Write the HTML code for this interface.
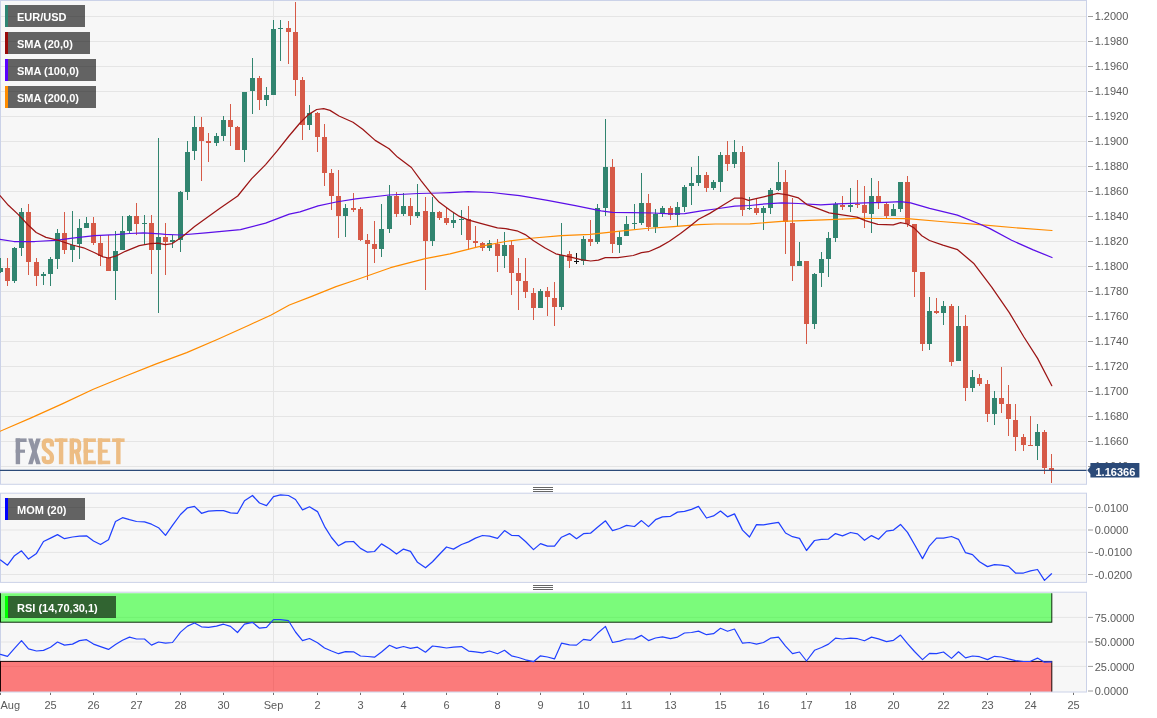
<!DOCTYPE html><html><head><meta charset="utf-8"><title>EUR/USD</title>
<style>html,body{margin:0;padding:0;background:#fff;}body{width:1157px;height:718px;overflow:hidden;font-family:"Liberation Sans",sans-serif;}svg{display:block;position:absolute;left:0;top:0;will-change:transform;}text{font-family:"Liberation Sans",sans-serif;}</style></head><body>
<svg width="1157" height="718" viewBox="0 0 1157 718">
<rect width="1157" height="718" fill="#fff"/>
<rect x="0.5" y="0.5" width="1086.0" height="483.8" fill="#f7f7f7" stroke="#cbd2e8" stroke-width="1"/>
<rect x="0.5" y="493.2" width="1086.0" height="89.19999999999999" fill="#f7f7f7" stroke="#cbd2e8" stroke-width="1"/>
<rect x="0.5" y="592.2" width="1086.0" height="99.79999999999995" fill="#f7f7f7" stroke="#cbd2e8" stroke-width="1"/>
<defs>
<clipPath id="cp0"><rect x="0" y="0.5" width="1086.5" height="483.8"/></clipPath>
<clipPath id="cp1"><rect x="0" y="493.2" width="1086.5" height="89.19999999999999"/></clipPath>
<clipPath id="cp2"><rect x="0" y="592.2" width="1086.5" height="99.79999999999995"/></clipPath>
<clipPath id="cp2b"><rect x="0" y="593.3" width="1087" height="98.3"/></clipPath>
</defs>
<line x1="1" x2="1086.0" y1="16.50" y2="16.50" stroke="#e5e5e5" stroke-width="1"/>
<line x1="1" x2="1086.0" y1="41.50" y2="41.50" stroke="#e5e5e5" stroke-width="1"/>
<line x1="1" x2="1086.0" y1="66.50" y2="66.50" stroke="#e5e5e5" stroke-width="1"/>
<line x1="1" x2="1086.0" y1="91.50" y2="91.50" stroke="#e5e5e5" stroke-width="1"/>
<line x1="1" x2="1086.0" y1="116.50" y2="116.50" stroke="#e5e5e5" stroke-width="1"/>
<line x1="1" x2="1086.0" y1="141.50" y2="141.50" stroke="#e5e5e5" stroke-width="1"/>
<line x1="1" x2="1086.0" y1="166.50" y2="166.50" stroke="#e5e5e5" stroke-width="1"/>
<line x1="1" x2="1086.0" y1="191.50" y2="191.50" stroke="#e5e5e5" stroke-width="1"/>
<line x1="1" x2="1086.0" y1="216.50" y2="216.50" stroke="#e5e5e5" stroke-width="1"/>
<line x1="1" x2="1086.0" y1="241.50" y2="241.50" stroke="#e5e5e5" stroke-width="1"/>
<line x1="1" x2="1086.0" y1="266.50" y2="266.50" stroke="#e5e5e5" stroke-width="1"/>
<line x1="1" x2="1086.0" y1="291.50" y2="291.50" stroke="#e5e5e5" stroke-width="1"/>
<line x1="1" x2="1086.0" y1="316.50" y2="316.50" stroke="#e5e5e5" stroke-width="1"/>
<line x1="1" x2="1086.0" y1="341.50" y2="341.50" stroke="#e5e5e5" stroke-width="1"/>
<line x1="1" x2="1086.0" y1="366.50" y2="366.50" stroke="#e5e5e5" stroke-width="1"/>
<line x1="1" x2="1086.0" y1="391.50" y2="391.50" stroke="#e5e5e5" stroke-width="1"/>
<line x1="1" x2="1086.0" y1="416.50" y2="416.50" stroke="#e5e5e5" stroke-width="1"/>
<line x1="1" x2="1086.0" y1="441.50" y2="441.50" stroke="#e5e5e5" stroke-width="1"/>
<line x1="1" x2="1086.0" y1="466.50" y2="466.50" stroke="#e5e5e5" stroke-width="1"/>
<line x1="1" x2="1086.0" y1="507.5" y2="507.5" stroke="#e5e5e5" stroke-width="1"/>
<line x1="1" x2="1086.0" y1="530.0" y2="530.0" stroke="#e5e5e5" stroke-width="1"/>
<line x1="1" x2="1086.0" y1="552.4" y2="552.4" stroke="#e5e5e5" stroke-width="1"/>
<line x1="1" x2="1086.0" y1="574.5" y2="574.5" stroke="#e5e5e5" stroke-width="1"/>
<line x1="1" x2="1086.0" y1="617.4" y2="617.4" stroke="#e5e5e5" stroke-width="1"/>
<line x1="1" x2="1086.0" y1="642.0" y2="642.0" stroke="#e5e5e5" stroke-width="1"/>
<line x1="1" x2="1086.0" y1="666.4" y2="666.4" stroke="#e5e5e5" stroke-width="1"/>
<line x1="273.5" x2="273.5" y1="1.0" y2="483.8" stroke="#e5e5e5" stroke-width="1"/>
<line x1="273.5" x2="273.5" y1="493.7" y2="581.9" stroke="#e5e5e5" stroke-width="1"/>
<line x1="273.5" x2="273.5" y1="592.7" y2="691.5" stroke="#e5e5e5" stroke-width="1"/>
<g opacity="1"><rect x="15.70" y="438.40" width="4.40" height="25.80" fill="#9194a3"/><rect x="15.70" y="438.40" width="10.90" height="3.60" fill="#9194a3"/><rect x="15.70" y="449.60" width="9.30" height="3.20" fill="#9194a3"/><polygon points="28.1,438.4 32.6,438.4 40.7,464.2 36.2,464.2" fill="#9194a3"/><polygon points="36.2,438.4 40.7,438.4 32.6,464.2 28.1,464.2" fill="#9194a3"/><path d="M51.9 446.5 L51.9 443.6 Q51.9 440.5 47.9 440.5 Q43.8 440.5 43.8 443.8 L43.8 445.5 Q43.8 448.6 47.9 451.3 Q51.9 454 51.9 457 L51.9 458.9 Q51.9 462.1 47.9 462.1 Q43.8 462.1 43.8 459 L43.8 456.2" fill="none" stroke="#edbd84" stroke-width="4.3"/><rect x="54.70" y="438.40" width="12.80" height="3.60" fill="#edbd84"/><rect x="58.90" y="438.40" width="4.40" height="25.80" fill="#edbd84"/><rect x="69.60" y="438.40" width="4.40" height="25.80" fill="#edbd84"/><path d="M71.8 440.3 L75.6 440.3 Q79.3 440.3 79.3 444 L79.3 447.8 Q79.3 451.5 75.6 451.5 L71.8 451.5" fill="none" stroke="#edbd84" stroke-width="3.8"/><polygon points="74.6,452 79.0,451 81.8,464.2 77.4,464.2" fill="#edbd84"/><rect x="83.60" y="438.40" width="4.40" height="25.80" fill="#edbd84"/><rect x="83.60" y="438.40" width="12.30" height="3.60" fill="#edbd84"/><rect x="83.60" y="449.60" width="9.80" height="3.20" fill="#edbd84"/><rect x="83.60" y="460.60" width="12.30" height="3.60" fill="#edbd84"/><rect x="97.90" y="438.40" width="4.40" height="25.80" fill="#edbd84"/><rect x="97.90" y="438.40" width="12.30" height="3.60" fill="#edbd84"/><rect x="97.90" y="449.60" width="9.80" height="3.20" fill="#edbd84"/><rect x="97.90" y="460.60" width="12.30" height="3.60" fill="#edbd84"/><rect x="112.10" y="438.40" width="12.50" height="3.60" fill="#edbd84"/><rect x="116.15" y="438.40" width="4.40" height="25.80" fill="#edbd84"/></g>
<g clip-path="url(#cp0)" shape-rendering="crispEdges">
<rect x="0" y="258" width="1" height="15" fill="#31846f"/>
<rect x="-2" y="268" width="5" height="4" fill="#31846f"/>
<rect x="7" y="258" width="1" height="28" fill="#d65a47"/>
<rect x="5" y="268" width="5" height="13" fill="#d65a47"/>
<rect x="14" y="247" width="1" height="36" fill="#31846f"/>
<rect x="12" y="248" width="5" height="33" fill="#31846f"/>
<rect x="21" y="208" width="1" height="48" fill="#31846f"/>
<rect x="19" y="212" width="5" height="36" fill="#31846f"/>
<rect x="28" y="204" width="1" height="71" fill="#d65a47"/>
<rect x="26" y="212" width="5" height="50" fill="#d65a47"/>
<rect x="36" y="258" width="1" height="28" fill="#d65a47"/>
<rect x="34" y="262" width="5" height="14" fill="#d65a47"/>
<rect x="43" y="272" width="1" height="13" fill="#31846f"/>
<rect x="41" y="274" width="5" height="2" fill="#31846f"/>
<rect x="50" y="257" width="1" height="29" fill="#31846f"/>
<rect x="48" y="259" width="5" height="15" fill="#31846f"/>
<rect x="57" y="229" width="1" height="40" fill="#31846f"/>
<rect x="55" y="233" width="5" height="26" fill="#31846f"/>
<rect x="64" y="212" width="1" height="42" fill="#d65a47"/>
<rect x="62" y="233" width="5" height="17" fill="#d65a47"/>
<rect x="72" y="211" width="1" height="51" fill="#31846f"/>
<rect x="70" y="245" width="5" height="5" fill="#31846f"/>
<rect x="79" y="219" width="1" height="40" fill="#31846f"/>
<rect x="77" y="228" width="5" height="16" fill="#31846f"/>
<rect x="86" y="217" width="1" height="11" fill="#31846f"/>
<rect x="84" y="223" width="5" height="5" fill="#31846f"/>
<rect x="93" y="217" width="1" height="28" fill="#d65a47"/>
<rect x="91" y="223" width="5" height="20" fill="#d65a47"/>
<rect x="100" y="235" width="1" height="31" fill="#d65a47"/>
<rect x="98" y="243" width="5" height="13" fill="#d65a47"/>
<rect x="108" y="235" width="1" height="36" fill="#d65a47"/>
<rect x="106" y="258" width="5" height="13" fill="#d65a47"/>
<rect x="115" y="231" width="1" height="69" fill="#31846f"/>
<rect x="113" y="251" width="5" height="20" fill="#31846f"/>
<rect x="122" y="216" width="1" height="34" fill="#31846f"/>
<rect x="120" y="231" width="5" height="19" fill="#31846f"/>
<rect x="129" y="215" width="1" height="19" fill="#31846f"/>
<rect x="127" y="216" width="5" height="15" fill="#31846f"/>
<rect x="136" y="203" width="1" height="32" fill="#d65a47"/>
<rect x="134" y="216" width="5" height="8" fill="#d65a47"/>
<rect x="144" y="215" width="1" height="30" fill="#31846f"/>
<rect x="142" y="223" width="5" height="1" fill="#31846f"/>
<rect x="151" y="215" width="1" height="59" fill="#d65a47"/>
<rect x="149" y="223" width="5" height="27" fill="#d65a47"/>
<rect x="158" y="138" width="1" height="175" fill="#31846f"/>
<rect x="156" y="237" width="5" height="13" fill="#31846f"/>
<rect x="165" y="223" width="1" height="52" fill="#d65a47"/>
<rect x="163" y="237" width="5" height="5" fill="#d65a47"/>
<rect x="172" y="235" width="1" height="13" fill="#31846f"/>
<rect x="170" y="240" width="5" height="2" fill="#31846f"/>
<rect x="180" y="191" width="1" height="61" fill="#31846f"/>
<rect x="178" y="192" width="5" height="48" fill="#31846f"/>
<rect x="187" y="141" width="1" height="59" fill="#31846f"/>
<rect x="185" y="152" width="5" height="40" fill="#31846f"/>
<rect x="194" y="116" width="1" height="44" fill="#31846f"/>
<rect x="192" y="127" width="5" height="24" fill="#31846f"/>
<rect x="201" y="117" width="1" height="64" fill="#d65a47"/>
<rect x="199" y="127" width="5" height="14" fill="#d65a47"/>
<rect x="208" y="133" width="1" height="29" fill="#d65a47"/>
<rect x="206" y="141" width="5" height="2" fill="#d65a47"/>
<rect x="216" y="133" width="1" height="13" fill="#31846f"/>
<rect x="214" y="136" width="5" height="7" fill="#31846f"/>
<rect x="223" y="116" width="1" height="25" fill="#31846f"/>
<rect x="221" y="120" width="5" height="16" fill="#31846f"/>
<rect x="230" y="104" width="1" height="42" fill="#d65a47"/>
<rect x="228" y="120" width="5" height="7" fill="#d65a47"/>
<rect x="237" y="126" width="1" height="24" fill="#d65a47"/>
<rect x="235" y="127" width="5" height="23" fill="#d65a47"/>
<rect x="244" y="92" width="1" height="70" fill="#31846f"/>
<rect x="242" y="92" width="5" height="58" fill="#31846f"/>
<rect x="252" y="58" width="1" height="56" fill="#31846f"/>
<rect x="250" y="78" width="5" height="13" fill="#31846f"/>
<rect x="259" y="76" width="1" height="34" fill="#d65a47"/>
<rect x="257" y="78" width="5" height="22" fill="#d65a47"/>
<rect x="266" y="87" width="1" height="19" fill="#31846f"/>
<rect x="264" y="95" width="5" height="5" fill="#31846f"/>
<rect x="273" y="20" width="1" height="75" fill="#31846f"/>
<rect x="271" y="29" width="5" height="66" fill="#31846f"/>
<rect x="280" y="20" width="1" height="41" fill="#31846f"/>
<rect x="278" y="28" width="5" height="1" fill="#31846f"/>
<rect x="288" y="21" width="1" height="43" fill="#d65a47"/>
<rect x="286" y="28" width="5" height="4" fill="#d65a47"/>
<rect x="295" y="2" width="1" height="94" fill="#d65a47"/>
<rect x="293" y="32" width="5" height="48" fill="#d65a47"/>
<rect x="302" y="77" width="1" height="63" fill="#d65a47"/>
<rect x="300" y="80" width="5" height="45" fill="#d65a47"/>
<rect x="309" y="105" width="1" height="25" fill="#31846f"/>
<rect x="307" y="113" width="5" height="12" fill="#31846f"/>
<rect x="317" y="112" width="1" height="40" fill="#d65a47"/>
<rect x="315" y="113" width="5" height="24" fill="#d65a47"/>
<rect x="324" y="124" width="1" height="62" fill="#d65a47"/>
<rect x="322" y="137" width="5" height="36" fill="#d65a47"/>
<rect x="331" y="169" width="1" height="41" fill="#d65a47"/>
<rect x="329" y="173" width="5" height="23" fill="#d65a47"/>
<rect x="338" y="170" width="1" height="68" fill="#d65a47"/>
<rect x="336" y="196" width="5" height="20" fill="#d65a47"/>
<rect x="345" y="204" width="1" height="33" fill="#31846f"/>
<rect x="343" y="208" width="5" height="8" fill="#31846f"/>
<rect x="353" y="193" width="1" height="19" fill="#d65a47"/>
<rect x="351" y="208" width="5" height="2" fill="#d65a47"/>
<rect x="360" y="207" width="1" height="34" fill="#d65a47"/>
<rect x="358" y="209" width="5" height="31" fill="#d65a47"/>
<rect x="367" y="234" width="1" height="46" fill="#d65a47"/>
<rect x="365" y="240" width="5" height="4" fill="#d65a47"/>
<rect x="374" y="221" width="1" height="42" fill="#d65a47"/>
<rect x="372" y="244" width="5" height="5" fill="#d65a47"/>
<rect x="381" y="204" width="1" height="53" fill="#31846f"/>
<rect x="379" y="229" width="5" height="20" fill="#31846f"/>
<rect x="389" y="185" width="1" height="48" fill="#31846f"/>
<rect x="387" y="196" width="5" height="33" fill="#31846f"/>
<rect x="396" y="192" width="1" height="25" fill="#d65a47"/>
<rect x="394" y="196" width="5" height="18" fill="#d65a47"/>
<rect x="403" y="193" width="1" height="23" fill="#31846f"/>
<rect x="401" y="206" width="5" height="8" fill="#31846f"/>
<rect x="410" y="198" width="1" height="27" fill="#d65a47"/>
<rect x="408" y="206" width="5" height="10" fill="#d65a47"/>
<rect x="417" y="184" width="1" height="34" fill="#31846f"/>
<rect x="415" y="212" width="5" height="4" fill="#31846f"/>
<rect x="425" y="197" width="1" height="93" fill="#d65a47"/>
<rect x="423" y="211" width="5" height="30" fill="#d65a47"/>
<rect x="432" y="197" width="1" height="49" fill="#31846f"/>
<rect x="430" y="212" width="5" height="29" fill="#31846f"/>
<rect x="439" y="211" width="1" height="9" fill="#d65a47"/>
<rect x="437" y="212" width="5" height="6" fill="#d65a47"/>
<rect x="446" y="208" width="1" height="17" fill="#d65a47"/>
<rect x="444" y="218" width="5" height="5" fill="#d65a47"/>
<rect x="453" y="213" width="1" height="15" fill="#31846f"/>
<rect x="451" y="220" width="5" height="3" fill="#31846f"/>
<rect x="461" y="210" width="1" height="25" fill="#31846f"/>
<rect x="459" y="219" width="5" height="1" fill="#31846f"/>
<rect x="468" y="206" width="1" height="44" fill="#d65a47"/>
<rect x="466" y="219" width="5" height="21" fill="#d65a47"/>
<rect x="475" y="226" width="1" height="21" fill="#d65a47"/>
<rect x="473" y="241" width="5" height="2" fill="#d65a47"/>
<rect x="482" y="242" width="1" height="9" fill="#d65a47"/>
<rect x="480" y="243" width="5" height="5" fill="#d65a47"/>
<rect x="489" y="240" width="1" height="11" fill="#31846f"/>
<rect x="487" y="243" width="5" height="5" fill="#31846f"/>
<rect x="497" y="239" width="1" height="33" fill="#d65a47"/>
<rect x="495" y="244" width="5" height="12" fill="#d65a47"/>
<rect x="504" y="232" width="1" height="36" fill="#31846f"/>
<rect x="502" y="245" width="5" height="11" fill="#31846f"/>
<rect x="511" y="241" width="1" height="54" fill="#d65a47"/>
<rect x="509" y="245" width="5" height="28" fill="#d65a47"/>
<rect x="518" y="258" width="1" height="52" fill="#d65a47"/>
<rect x="516" y="273" width="5" height="8" fill="#d65a47"/>
<rect x="525" y="258" width="1" height="40" fill="#d65a47"/>
<rect x="523" y="281" width="5" height="11" fill="#d65a47"/>
<rect x="533" y="288" width="1" height="32" fill="#d65a47"/>
<rect x="531" y="293" width="5" height="15" fill="#d65a47"/>
<rect x="540" y="289" width="1" height="19" fill="#31846f"/>
<rect x="538" y="291" width="5" height="17" fill="#31846f"/>
<rect x="547" y="287" width="1" height="29" fill="#d65a47"/>
<rect x="545" y="291" width="5" height="6" fill="#d65a47"/>
<rect x="554" y="282" width="1" height="44" fill="#d65a47"/>
<rect x="552" y="298" width="5" height="9" fill="#d65a47"/>
<rect x="561" y="223" width="1" height="87" fill="#31846f"/>
<rect x="559" y="255" width="5" height="52" fill="#31846f"/>
<rect x="569" y="251" width="1" height="17" fill="#d65a47"/>
<rect x="567" y="254" width="5" height="7" fill="#d65a47"/>
<rect x="576" y="253" width="1" height="11" fill="#111"/>
<rect x="574" y="261" width="5" height="1" fill="#111"/>
<rect x="583" y="236" width="1" height="29" fill="#31846f"/>
<rect x="581" y="239" width="5" height="22" fill="#31846f"/>
<rect x="590" y="220" width="1" height="26" fill="#d65a47"/>
<rect x="588" y="239" width="5" height="3" fill="#d65a47"/>
<rect x="597" y="204" width="1" height="40" fill="#31846f"/>
<rect x="595" y="208" width="5" height="34" fill="#31846f"/>
<rect x="605" y="119" width="1" height="97" fill="#31846f"/>
<rect x="603" y="167" width="5" height="41" fill="#31846f"/>
<rect x="612" y="159" width="1" height="94" fill="#d65a47"/>
<rect x="610" y="167" width="5" height="77" fill="#d65a47"/>
<rect x="619" y="231" width="1" height="22" fill="#31846f"/>
<rect x="617" y="237" width="5" height="8" fill="#31846f"/>
<rect x="626" y="216" width="1" height="20" fill="#31846f"/>
<rect x="624" y="224" width="5" height="12" fill="#31846f"/>
<rect x="634" y="204" width="1" height="25" fill="#31846f"/>
<rect x="632" y="223" width="5" height="1" fill="#31846f"/>
<rect x="641" y="173" width="1" height="52" fill="#31846f"/>
<rect x="639" y="203" width="5" height="20" fill="#31846f"/>
<rect x="648" y="194" width="1" height="37" fill="#d65a47"/>
<rect x="646" y="203" width="5" height="24" fill="#d65a47"/>
<rect x="655" y="209" width="1" height="24" fill="#31846f"/>
<rect x="653" y="214" width="5" height="13" fill="#31846f"/>
<rect x="662" y="206" width="1" height="11" fill="#31846f"/>
<rect x="660" y="208" width="5" height="5" fill="#31846f"/>
<rect x="670" y="206" width="1" height="14" fill="#d65a47"/>
<rect x="668" y="208" width="5" height="7" fill="#d65a47"/>
<rect x="677" y="202" width="1" height="24" fill="#31846f"/>
<rect x="675" y="207" width="5" height="8" fill="#31846f"/>
<rect x="684" y="185" width="1" height="27" fill="#31846f"/>
<rect x="682" y="187" width="5" height="20" fill="#31846f"/>
<rect x="691" y="167" width="1" height="38" fill="#31846f"/>
<rect x="689" y="183" width="5" height="3" fill="#31846f"/>
<rect x="698" y="156" width="1" height="30" fill="#31846f"/>
<rect x="696" y="175" width="5" height="8" fill="#31846f"/>
<rect x="706" y="172" width="1" height="20" fill="#d65a47"/>
<rect x="704" y="175" width="5" height="13" fill="#d65a47"/>
<rect x="713" y="180" width="1" height="10" fill="#31846f"/>
<rect x="711" y="182" width="5" height="6" fill="#31846f"/>
<rect x="720" y="152" width="1" height="40" fill="#31846f"/>
<rect x="718" y="155" width="5" height="27" fill="#31846f"/>
<rect x="727" y="141" width="1" height="30" fill="#d65a47"/>
<rect x="725" y="155" width="5" height="9" fill="#d65a47"/>
<rect x="734" y="140" width="1" height="28" fill="#31846f"/>
<rect x="732" y="152" width="5" height="12" fill="#31846f"/>
<rect x="742" y="146" width="1" height="70" fill="#d65a47"/>
<rect x="740" y="152" width="5" height="58" fill="#d65a47"/>
<rect x="749" y="197" width="1" height="13" fill="#31846f"/>
<rect x="747" y="208" width="5" height="1" fill="#31846f"/>
<rect x="756" y="199" width="1" height="16" fill="#d65a47"/>
<rect x="754" y="208" width="5" height="5" fill="#d65a47"/>
<rect x="763" y="206" width="1" height="24" fill="#31846f"/>
<rect x="761" y="208" width="5" height="5" fill="#31846f"/>
<rect x="770" y="188" width="1" height="26" fill="#31846f"/>
<rect x="768" y="190" width="5" height="18" fill="#31846f"/>
<rect x="778" y="162" width="1" height="29" fill="#31846f"/>
<rect x="776" y="182" width="5" height="8" fill="#31846f"/>
<rect x="785" y="170" width="1" height="84" fill="#d65a47"/>
<rect x="783" y="182" width="5" height="40" fill="#d65a47"/>
<rect x="792" y="198" width="1" height="83" fill="#d65a47"/>
<rect x="790" y="223" width="5" height="43" fill="#d65a47"/>
<rect x="799" y="242" width="1" height="24" fill="#31846f"/>
<rect x="797" y="261" width="5" height="5" fill="#31846f"/>
<rect x="806" y="261" width="1" height="83" fill="#d65a47"/>
<rect x="804" y="261" width="5" height="63" fill="#d65a47"/>
<rect x="814" y="273" width="1" height="56" fill="#31846f"/>
<rect x="812" y="274" width="5" height="50" fill="#31846f"/>
<rect x="821" y="252" width="1" height="35" fill="#31846f"/>
<rect x="819" y="259" width="5" height="14" fill="#31846f"/>
<rect x="828" y="232" width="1" height="45" fill="#31846f"/>
<rect x="826" y="238" width="5" height="21" fill="#31846f"/>
<rect x="835" y="202" width="1" height="40" fill="#31846f"/>
<rect x="833" y="204" width="5" height="34" fill="#31846f"/>
<rect x="842" y="196" width="1" height="14" fill="#d65a47"/>
<rect x="840" y="205" width="5" height="2" fill="#d65a47"/>
<rect x="850" y="188" width="1" height="24" fill="#31846f"/>
<rect x="848" y="205" width="5" height="2" fill="#31846f"/>
<rect x="857" y="180" width="1" height="28" fill="#d65a47"/>
<rect x="855" y="204" width="5" height="1" fill="#d65a47"/>
<rect x="864" y="186" width="1" height="42" fill="#d65a47"/>
<rect x="862" y="205" width="5" height="8" fill="#d65a47"/>
<rect x="871" y="178" width="1" height="55" fill="#31846f"/>
<rect x="869" y="196" width="5" height="18" fill="#31846f"/>
<rect x="878" y="181" width="1" height="28" fill="#d65a47"/>
<rect x="876" y="196" width="5" height="6" fill="#d65a47"/>
<rect x="886" y="202" width="1" height="16" fill="#d65a47"/>
<rect x="884" y="204" width="5" height="12" fill="#d65a47"/>
<rect x="893" y="204" width="1" height="12" fill="#31846f"/>
<rect x="891" y="209" width="5" height="7" fill="#31846f"/>
<rect x="900" y="182" width="1" height="30" fill="#31846f"/>
<rect x="898" y="182" width="5" height="27" fill="#31846f"/>
<rect x="907" y="176" width="1" height="51" fill="#d65a47"/>
<rect x="905" y="182" width="5" height="42" fill="#d65a47"/>
<rect x="914" y="224" width="1" height="73" fill="#d65a47"/>
<rect x="912" y="224" width="5" height="48" fill="#d65a47"/>
<rect x="922" y="272" width="1" height="79" fill="#d65a47"/>
<rect x="920" y="272" width="5" height="72" fill="#d65a47"/>
<rect x="929" y="297" width="1" height="53" fill="#31846f"/>
<rect x="927" y="311" width="5" height="33" fill="#31846f"/>
<rect x="936" y="298" width="1" height="16" fill="#d65a47"/>
<rect x="934" y="311" width="5" height="2" fill="#d65a47"/>
<rect x="943" y="301" width="1" height="24" fill="#31846f"/>
<rect x="941" y="306" width="5" height="7" fill="#31846f"/>
<rect x="951" y="304" width="1" height="62" fill="#d65a47"/>
<rect x="949" y="306" width="5" height="56" fill="#d65a47"/>
<rect x="958" y="306" width="1" height="55" fill="#31846f"/>
<rect x="956" y="326" width="5" height="35" fill="#31846f"/>
<rect x="965" y="315" width="1" height="86" fill="#d65a47"/>
<rect x="963" y="326" width="5" height="62" fill="#d65a47"/>
<rect x="972" y="370" width="1" height="22" fill="#31846f"/>
<rect x="970" y="377" width="5" height="11" fill="#31846f"/>
<rect x="979" y="374" width="1" height="12" fill="#d65a47"/>
<rect x="977" y="378" width="5" height="6" fill="#d65a47"/>
<rect x="987" y="380" width="1" height="42" fill="#d65a47"/>
<rect x="985" y="384" width="5" height="30" fill="#d65a47"/>
<rect x="994" y="391" width="1" height="34" fill="#31846f"/>
<rect x="992" y="398" width="5" height="16" fill="#31846f"/>
<rect x="1001" y="367" width="1" height="46" fill="#d65a47"/>
<rect x="999" y="398" width="5" height="6" fill="#d65a47"/>
<rect x="1008" y="385" width="1" height="51" fill="#d65a47"/>
<rect x="1006" y="404" width="5" height="15" fill="#d65a47"/>
<rect x="1015" y="404" width="1" height="47" fill="#d65a47"/>
<rect x="1013" y="420" width="5" height="17" fill="#d65a47"/>
<rect x="1023" y="434" width="1" height="17" fill="#d65a47"/>
<rect x="1021" y="437" width="5" height="8" fill="#d65a47"/>
<rect x="1030" y="416" width="1" height="30" fill="#d65a47"/>
<rect x="1028" y="445" width="5" height="1" fill="#d65a47"/>
<rect x="1037" y="424" width="1" height="36" fill="#31846f"/>
<rect x="1035" y="432" width="5" height="14" fill="#31846f"/>
<rect x="1044" y="430" width="1" height="44" fill="#d65a47"/>
<rect x="1042" y="432" width="5" height="36" fill="#d65a47"/>
<rect x="1051" y="454" width="1" height="29" fill="#d65a47"/>
<rect x="1049" y="468" width="5" height="2" fill="#d65a47"/>
</g>
<polyline points="0.0,431.3 31.1,417.9 62.2,403.9 93.3,389.3 124.5,376.5 155.6,364.1 186.7,352.6 217.8,339.2 248.9,325.2 270.7,315.2 289.4,305.0 311.1,296.6 336.0,286.6 355.7,280.0 390.5,267.7 425.3,258.7 450.0,253.8 477.9,246.8 505.7,241.5 533.6,238.0 561.4,235.7 590.0,234.3 617.9,231.3 645.7,228.5 673.6,226.7 698.6,224.6 715.3,224.0 750.0,223.9 781.8,221.3 823.6,219.9 858.4,218.3 885.0,218.5 907.3,218.7 940.7,221.5 979.7,224.6 1020.3,228.2 1052.0,230.5" fill="none" stroke="#ff8c00" stroke-width="1.2" stroke-linejoin="round" stroke-linecap="round" clip-path="url(#cp0)"/>
<polyline points="0.0,239.4 13.9,241.5 34.8,241.5 55.7,240.4 72.4,238.1 94.7,235.7 115.6,234.6 129.5,233.5 143.5,232.9 160.0,233.8 165.3,234.3 180.6,235.0 205.7,232.9 240.5,229.7 265.6,223.1 289.3,214.1 300.0,211.8 318.1,205.8 336.2,202.0 355.7,198.8 389.1,195.0 418.4,193.5 439.3,193.0 450.0,192.6 468.1,191.7 491.8,192.5 519.6,195.6 547.5,200.4 575.3,205.7 590.0,208.6 601.1,210.9 612.3,212.3 631.8,212.7 652.7,213.0 670.8,213.8 684.7,213.7 701.4,210.9 715.3,209.0 734.8,206.2 750.0,205.5 760.9,204.3 781.8,202.9 798.5,203.5 820.8,204.8 837.5,203.9 865.3,202.9 885.0,202.3 900.6,201.7 910.6,202.9 929.6,208.4 957.4,215.1 979.7,224.0 990.0,228.6 1011.6,240.3 1033.2,249.9 1052.0,257.5" fill="none" stroke="#5b0fe8" stroke-width="1.25" stroke-linejoin="round" stroke-linecap="round" clip-path="url(#cp0)"/>
<polyline points="0.0,195.6 8.4,205.3 18.1,214.4 27.9,224.8 36.2,232.5 46.0,237.4 58.5,240.4 72.4,245.0 83.6,247.8 94.7,252.7 103.1,256.9 108.6,258.0 115.6,256.2 125.3,251.3 139.3,245.7 150.4,243.6 158.0,243.2 165.3,244.7 172.3,243.6 182.0,237.0 194.6,226.6 219.6,208.5 237.7,196.0 251.7,178.6 265.6,164.6 277.4,150.7 289.0,136.0 300.0,123.0 308.4,114.6 316.7,109.5 323.7,108.6 330.0,110.4 339.0,116.0 353.0,122.3 362.7,129.2 375.2,140.4 389.1,148.7 397.5,157.1 411.4,167.5 421.2,180.8 430.9,193.2 439.3,202.3 450.4,210.4 458.4,215.8 468.1,219.9 480.6,223.4 497.4,227.9 505.7,228.7 516.9,230.8 525.2,234.6 533.6,240.8 544.7,247.8 555.8,253.8 569.8,256.9 580.9,259.6 590.7,261.0 598.4,260.1 605.3,257.7 617.9,257.7 633.2,255.5 641.5,252.7 648.5,251.7 659.6,246.9 669.4,241.3 680.5,233.6 690.3,226.0 698.6,219.3 709.8,213.4 723.7,204.8 734.8,198.0 742.0,198.0 748.4,200.4 763.7,196.9 777.6,193.4 787.4,194.8 798.5,197.9 806.9,204.6 818.0,208.7 829.1,212.9 840.3,214.6 857.0,217.1 865.3,220.6 877.9,224.3 893.2,224.8 900.6,222.7 907.3,224.0 914.0,227.9 921.8,235.7 929.5,240.5 942.9,245.2 957.6,249.7 974.1,263.8 991.7,287.2 1009.3,312.6 1023.9,337.0 1037.6,358.4 1051.8,385.7" fill="none" stroke="#9c1515" stroke-width="1.25" stroke-linejoin="round" stroke-linecap="round" clip-path="url(#cp0)"/>
<line x1="0" x2="1086.5" y1="470.3" y2="470.3" stroke="#2b4a78" stroke-width="1.2"/>
<polyline points="0.5,560.0 7.5,565.2 14.5,555.7 21.5,550.8 28.5,559.1 36.5,553.4 43.5,541.5 50.5,538.1 57.5,534.6 64.5,538.7 72.5,537.0 79.5,536.2 86.5,535.8 93.5,541.0 100.5,544.5 108.5,539.8 115.5,521.5 122.5,517.7 129.5,519.7 136.5,521.5 144.5,521.8 151.5,524.2 158.5,527.7 165.5,535.3 172.5,525.4 180.5,514.5 187.5,507.8 194.5,506.4 201.5,513.3 208.5,511.1 216.5,510.7 223.5,510.7 230.5,512.8 237.5,513.3 244.5,500.7 252.5,495.5 259.5,503.0 266.5,505.6 273.5,496.6 280.5,494.8 288.5,495.5 295.5,499.5 302.5,509.9 309.5,506.8 317.5,511.6 324.5,526.3 331.5,537.5 338.5,545.8 345.5,541.9 353.5,541.5 360.5,548.4 367.5,552.2 374.5,551.5 381.5,543.9 389.5,548.8 396.5,554.1 403.5,549.1 410.5,551.4 417.5,562.3 425.5,567.8 432.5,561.7 439.5,554.3 446.5,547.0 453.5,549.1 461.5,544.5 468.5,541.9 475.5,538.1 482.5,535.5 489.5,536.2 497.5,538.4 504.5,530.6 511.5,535.3 518.5,535.6 525.5,541.5 533.5,549.6 540.5,543.6 547.5,546.2 554.5,546.2 561.5,537.2 569.5,533.6 576.5,538.7 583.5,533.7 590.5,533.2 597.5,527.2 605.5,520.8 612.5,530.6 619.5,528.5 626.5,525.4 634.5,526.5 641.5,520.6 648.5,526.6 655.5,519.7 662.5,516.8 670.5,516.3 677.5,512.1 684.5,511.3 691.5,509.4 698.5,506.4 706.5,518.0 713.5,515.9 720.5,511.1 727.5,516.8 734.5,513.9 742.5,530.1 749.5,537.0 756.5,524.6 763.5,524.9 770.5,523.7 778.5,522.3 785.5,533.0 792.5,536.7 799.5,538.4 806.5,550.5 814.5,540.5 821.5,539.3 828.5,539.1 835.5,533.6 842.5,535.8 850.5,532.5 857.5,533.9 864.5,540.3 871.5,535.6 878.5,539.3 886.5,531.1 893.5,530.1 900.5,524.4 907.5,532.4 914.5,544.5 922.5,558.6 929.5,545.8 936.5,538.1 943.5,538.1 951.5,536.5 958.5,539.3 965.5,552.7 972.5,554.6 979.5,561.7 987.5,566.6 994.5,564.7 1001.5,565.2 1008.5,566.4 1015.5,573.0 1023.5,573.0 1030.5,570.9 1037.5,569.5 1044.5,580.4 1051.5,573.8" fill="none" stroke="#2040ff" stroke-width="1.25" stroke-linejoin="round" stroke-linecap="round" clip-path="url(#cp1)"/>
<g clip-path="url(#cp2b)">
<rect x="0.5" y="580" width="1051.3" height="42.200000000000045" fill="rgba(0,255,0,0.5)" stroke="#0a2a0a" stroke-width="1"/>
<rect x="0.5" y="661.4" width="1051.3" height="43.60000000000002" fill="rgba(255,0,0,0.5)" stroke="#1a0505" stroke-width="1"/>
</g>
<polyline points="0.5,654.4 7.5,656.3 14.5,648.4 21.5,640.6 28.5,648.9 36.5,651.0 43.5,650.4 50.5,647.2 57.5,642.0 64.5,645.1 72.5,644.1 79.5,640.6 86.5,639.7 93.5,644.1 100.5,646.6 108.5,649.4 115.5,644.6 122.5,640.3 129.5,637.1 136.5,639.0 144.5,639.0 151.5,645.1 158.5,642.0 165.5,643.2 172.5,642.5 180.5,632.1 187.5,626.1 194.5,623.0 201.5,626.8 208.5,627.3 216.5,626.2 223.5,624.2 230.5,626.4 237.5,632.5 244.5,624.2 252.5,622.4 259.5,628.2 266.5,627.3 273.5,619.7 280.5,619.7 288.5,620.7 295.5,632.0 302.5,640.6 309.5,638.5 317.5,642.8 324.5,648.0 331.5,651.0 338.5,653.7 345.5,651.7 353.5,651.8 360.5,656.0 367.5,656.5 374.5,657.2 381.5,652.0 389.5,645.3 396.5,648.4 403.5,646.5 410.5,648.4 417.5,647.2 425.5,652.2 432.5,646.0 439.5,646.8 446.5,648.0 453.5,647.2 461.5,646.6 468.5,651.1 475.5,651.8 482.5,652.9 489.5,651.0 497.5,653.7 504.5,650.3 511.5,655.8 518.5,657.5 525.5,659.8 533.5,661.7 540.5,655.8 547.5,657.0 554.5,658.9 561.5,643.2 569.5,644.9 576.5,645.1 583.5,639.4 590.5,640.4 597.5,633.3 605.5,626.4 612.5,642.5 619.5,641.1 626.5,639.0 634.5,638.9 641.5,635.4 648.5,640.6 655.5,638.0 662.5,636.8 670.5,638.7 677.5,637.1 684.5,633.0 691.5,632.5 698.5,631.1 706.5,634.7 713.5,633.7 720.5,628.3 727.5,631.3 734.5,629.0 742.5,643.2 749.5,642.5 756.5,644.1 763.5,642.5 770.5,638.2 778.5,637.1 785.5,646.1 792.5,653.6 799.5,652.0 806.5,661.0 814.5,650.3 821.5,647.5 828.5,644.1 835.5,638.2 842.5,639.0 850.5,638.2 857.5,638.7 864.5,640.8 871.5,637.1 878.5,638.9 886.5,641.6 893.5,640.3 900.5,635.1 907.5,643.7 914.5,651.5 922.5,659.6 929.5,653.4 936.5,653.6 943.5,652.0 951.5,658.4 958.5,651.8 965.5,657.9 972.5,656.0 979.5,656.7 987.5,659.6 994.5,656.3 1001.5,657.0 1008.5,658.9 1015.5,660.6 1023.5,661.5 1030.5,661.3 1037.5,658.1 1044.5,662.2 1051.5,661.9" fill="none" stroke="#2040ff" stroke-width="1.2" stroke-linejoin="round" stroke-linecap="round" clip-path="url(#cp2)"/>
<line x1="533" x2="553" y1="487.5" y2="487.5" stroke="#666" stroke-width="1"/>
<line x1="533" x2="553" y1="489.5" y2="489.5" stroke="#666" stroke-width="1"/>
<line x1="533" x2="553" y1="491.5" y2="491.5" stroke="#666" stroke-width="1"/>
<line x1="533" x2="553" y1="585.5" y2="585.5" stroke="#666" stroke-width="1"/>
<line x1="533" x2="553" y1="587.5" y2="587.5" stroke="#666" stroke-width="1"/>
<line x1="533" x2="553" y1="589.5" y2="589.5" stroke="#666" stroke-width="1"/>
<rect x="5" y="5" width="80" height="22" fill="rgba(0,0,0,0.6)"/>
<rect x="5" y="5" width="3" height="22" fill="#2e8573"/>
<text x="17" y="20.8" font-size="11" font-weight="bold" fill="#fff">EUR/USD</text>
<rect x="5" y="32" width="85" height="22" fill="rgba(0,0,0,0.6)"/>
<rect x="5" y="32" width="3" height="22" fill="#990a0a"/>
<text x="17" y="47.8" font-size="11" font-weight="bold" fill="#fff">SMA (20,0)</text>
<rect x="5" y="59" width="91" height="22" fill="rgba(0,0,0,0.6)"/>
<rect x="5" y="59" width="3" height="22" fill="#5a00ff"/>
<text x="17" y="74.8" font-size="11" font-weight="bold" fill="#fff">SMA (100,0)</text>
<rect x="5" y="86" width="91" height="22" fill="rgba(0,0,0,0.6)"/>
<rect x="5" y="86" width="3" height="22" fill="#ff8c00"/>
<text x="17" y="101.8" font-size="11" font-weight="bold" fill="#fff">SMA (200,0)</text>
<rect x="5" y="498" width="80" height="22" fill="rgba(0,0,0,0.6)"/>
<rect x="5" y="498" width="3" height="22" fill="#0000ff"/>
<text x="17" y="513.8" font-size="11" font-weight="bold" fill="#fff">MOM (20)</text>
<rect x="5" y="596" width="111" height="22" fill="rgba(0,0,0,0.6)"/>
<rect x="5" y="596" width="3" height="22" fill="#00ff00"/>
<text x="17" y="611.8" font-size="11" font-weight="bold" fill="#fff">RSI (14,70,30,1)</text>
<line x1="1088" x2="1093" y1="16.50" y2="16.50" stroke="#9c9c9c" stroke-width="1"/>
<text x="1094.7" y="20.00" font-size="11" fill="#5a5a5a">1.2000</text>
<line x1="1088" x2="1093" y1="41.50" y2="41.50" stroke="#9c9c9c" stroke-width="1"/>
<text x="1094.7" y="45.00" font-size="11" fill="#5a5a5a">1.1980</text>
<line x1="1088" x2="1093" y1="66.50" y2="66.50" stroke="#9c9c9c" stroke-width="1"/>
<text x="1094.7" y="70.00" font-size="11" fill="#5a5a5a">1.1960</text>
<line x1="1088" x2="1093" y1="91.50" y2="91.50" stroke="#9c9c9c" stroke-width="1"/>
<text x="1094.7" y="95.00" font-size="11" fill="#5a5a5a">1.1940</text>
<line x1="1088" x2="1093" y1="116.50" y2="116.50" stroke="#9c9c9c" stroke-width="1"/>
<text x="1094.7" y="120.00" font-size="11" fill="#5a5a5a">1.1920</text>
<line x1="1088" x2="1093" y1="141.50" y2="141.50" stroke="#9c9c9c" stroke-width="1"/>
<text x="1094.7" y="145.00" font-size="11" fill="#5a5a5a">1.1900</text>
<line x1="1088" x2="1093" y1="166.50" y2="166.50" stroke="#9c9c9c" stroke-width="1"/>
<text x="1094.7" y="170.00" font-size="11" fill="#5a5a5a">1.1880</text>
<line x1="1088" x2="1093" y1="191.50" y2="191.50" stroke="#9c9c9c" stroke-width="1"/>
<text x="1094.7" y="195.00" font-size="11" fill="#5a5a5a">1.1860</text>
<line x1="1088" x2="1093" y1="216.50" y2="216.50" stroke="#9c9c9c" stroke-width="1"/>
<text x="1094.7" y="220.00" font-size="11" fill="#5a5a5a">1.1840</text>
<line x1="1088" x2="1093" y1="241.50" y2="241.50" stroke="#9c9c9c" stroke-width="1"/>
<text x="1094.7" y="245.00" font-size="11" fill="#5a5a5a">1.1820</text>
<line x1="1088" x2="1093" y1="266.50" y2="266.50" stroke="#9c9c9c" stroke-width="1"/>
<text x="1094.7" y="270.00" font-size="11" fill="#5a5a5a">1.1800</text>
<line x1="1088" x2="1093" y1="291.50" y2="291.50" stroke="#9c9c9c" stroke-width="1"/>
<text x="1094.7" y="295.00" font-size="11" fill="#5a5a5a">1.1780</text>
<line x1="1088" x2="1093" y1="316.50" y2="316.50" stroke="#9c9c9c" stroke-width="1"/>
<text x="1094.7" y="320.00" font-size="11" fill="#5a5a5a">1.1760</text>
<line x1="1088" x2="1093" y1="341.50" y2="341.50" stroke="#9c9c9c" stroke-width="1"/>
<text x="1094.7" y="345.00" font-size="11" fill="#5a5a5a">1.1740</text>
<line x1="1088" x2="1093" y1="366.50" y2="366.50" stroke="#9c9c9c" stroke-width="1"/>
<text x="1094.7" y="370.00" font-size="11" fill="#5a5a5a">1.1720</text>
<line x1="1088" x2="1093" y1="391.50" y2="391.50" stroke="#9c9c9c" stroke-width="1"/>
<text x="1094.7" y="395.00" font-size="11" fill="#5a5a5a">1.1700</text>
<line x1="1088" x2="1093" y1="416.50" y2="416.50" stroke="#9c9c9c" stroke-width="1"/>
<text x="1094.7" y="420.00" font-size="11" fill="#5a5a5a">1.1680</text>
<line x1="1088" x2="1093" y1="441.50" y2="441.50" stroke="#9c9c9c" stroke-width="1"/>
<text x="1094.7" y="445.00" font-size="11" fill="#5a5a5a">1.1660</text>
<line x1="1088" x2="1093" y1="466.50" y2="466.50" stroke="#9c9c9c" stroke-width="1"/>
<text x="1094.7" y="470.00" font-size="11" fill="#5a5a5a">1.1640</text>
<line x1="1088" x2="1093" y1="507.50" y2="507.50" stroke="#9c9c9c" stroke-width="1"/>
<text x="1094.7" y="511.50" font-size="11" fill="#5a5a5a">0.0100</text>
<line x1="1088" x2="1093" y1="530.00" y2="530.00" stroke="#9c9c9c" stroke-width="1"/>
<text x="1094.7" y="534.00" font-size="11" fill="#5a5a5a">0.0000</text>
<line x1="1088" x2="1093" y1="552.40" y2="552.40" stroke="#9c9c9c" stroke-width="1"/>
<text x="1094.7" y="556.40" font-size="11" fill="#5a5a5a">-0.0100</text>
<line x1="1088" x2="1093" y1="574.50" y2="574.50" stroke="#9c9c9c" stroke-width="1"/>
<text x="1094.7" y="578.50" font-size="11" fill="#5a5a5a">-0.0200</text>
<line x1="1088" x2="1093" y1="617.40" y2="617.40" stroke="#9c9c9c" stroke-width="1"/>
<text x="1094.7" y="621.70" font-size="11" fill="#5a5a5a">75.0000</text>
<line x1="1088" x2="1093" y1="642.00" y2="642.00" stroke="#9c9c9c" stroke-width="1"/>
<text x="1094.7" y="646.30" font-size="11" fill="#5a5a5a">50.0000</text>
<line x1="1088" x2="1093" y1="666.40" y2="666.40" stroke="#9c9c9c" stroke-width="1"/>
<text x="1094.7" y="670.70" font-size="11" fill="#5a5a5a">25.0000</text>
<line x1="1088" x2="1093" y1="691.00" y2="691.00" stroke="#9c9c9c" stroke-width="1"/>
<text x="1094.7" y="695.30" font-size="11" fill="#5a5a5a">0.0000</text>
<path d="M1087.3 470.3 L1090.4 466.6 L1090.4 463.1 L1139.4 463.1 L1139.4 477.6 L1090.4 477.6 L1090.4 474 Z" fill="#2b4a78"/>
<text x="1095.5" y="475.8" font-size="11" font-weight="bold" fill="#fff">1.16366</text>
<line x1="0.5" x2="0.5" y1="692.8" y2="695" stroke="#707070" stroke-width="1"/>
<text x="0.5" y="709.3" font-size="11" fill="#5a5a5a">Aug</text>
<line x1="50.5" x2="50.5" y1="692.8" y2="695" stroke="#707070" stroke-width="1"/>
<text x="50.5" y="709.3" font-size="11" fill="#5a5a5a" text-anchor="middle">25</text>
<line x1="93.5" x2="93.5" y1="692.8" y2="695" stroke="#707070" stroke-width="1"/>
<text x="93.5" y="709.3" font-size="11" fill="#5a5a5a" text-anchor="middle">26</text>
<line x1="136.5" x2="136.5" y1="692.8" y2="695" stroke="#707070" stroke-width="1"/>
<text x="136.5" y="709.3" font-size="11" fill="#5a5a5a" text-anchor="middle">27</text>
<line x1="180.5" x2="180.5" y1="692.8" y2="695" stroke="#707070" stroke-width="1"/>
<text x="180.5" y="709.3" font-size="11" fill="#5a5a5a" text-anchor="middle">28</text>
<line x1="223.5" x2="223.5" y1="692.8" y2="695" stroke="#707070" stroke-width="1"/>
<text x="223.5" y="709.3" font-size="11" fill="#5a5a5a" text-anchor="middle">30</text>
<line x1="273.5" x2="273.5" y1="692.8" y2="695" stroke="#707070" stroke-width="1"/>
<text x="273.5" y="709.3" font-size="11" fill="#5a5a5a" text-anchor="middle">Sep</text>
<line x1="317.5" x2="317.5" y1="692.8" y2="695" stroke="#707070" stroke-width="1"/>
<text x="317.5" y="709.3" font-size="11" fill="#5a5a5a" text-anchor="middle">2</text>
<line x1="360.5" x2="360.5" y1="692.8" y2="695" stroke="#707070" stroke-width="1"/>
<text x="360.5" y="709.3" font-size="11" fill="#5a5a5a" text-anchor="middle">3</text>
<line x1="403.5" x2="403.5" y1="692.8" y2="695" stroke="#707070" stroke-width="1"/>
<text x="403.5" y="709.3" font-size="11" fill="#5a5a5a" text-anchor="middle">4</text>
<line x1="446.5" x2="446.5" y1="692.8" y2="695" stroke="#707070" stroke-width="1"/>
<text x="446.5" y="709.3" font-size="11" fill="#5a5a5a" text-anchor="middle">6</text>
<line x1="497.5" x2="497.5" y1="692.8" y2="695" stroke="#707070" stroke-width="1"/>
<text x="497.5" y="709.3" font-size="11" fill="#5a5a5a" text-anchor="middle">8</text>
<line x1="540.5" x2="540.5" y1="692.8" y2="695" stroke="#707070" stroke-width="1"/>
<text x="540.5" y="709.3" font-size="11" fill="#5a5a5a" text-anchor="middle">9</text>
<line x1="583.5" x2="583.5" y1="692.8" y2="695" stroke="#707070" stroke-width="1"/>
<text x="583.5" y="709.3" font-size="11" fill="#5a5a5a" text-anchor="middle">10</text>
<line x1="626.5" x2="626.5" y1="692.8" y2="695" stroke="#707070" stroke-width="1"/>
<text x="626.5" y="709.3" font-size="11" fill="#5a5a5a" text-anchor="middle">11</text>
<line x1="670.5" x2="670.5" y1="692.8" y2="695" stroke="#707070" stroke-width="1"/>
<text x="670.5" y="709.3" font-size="11" fill="#5a5a5a" text-anchor="middle">13</text>
<line x1="720.5" x2="720.5" y1="692.8" y2="695" stroke="#707070" stroke-width="1"/>
<text x="720.5" y="709.3" font-size="11" fill="#5a5a5a" text-anchor="middle">15</text>
<line x1="763.5" x2="763.5" y1="692.8" y2="695" stroke="#707070" stroke-width="1"/>
<text x="763.5" y="709.3" font-size="11" fill="#5a5a5a" text-anchor="middle">16</text>
<line x1="806.5" x2="806.5" y1="692.8" y2="695" stroke="#707070" stroke-width="1"/>
<text x="806.5" y="709.3" font-size="11" fill="#5a5a5a" text-anchor="middle">17</text>
<line x1="850.5" x2="850.5" y1="692.8" y2="695" stroke="#707070" stroke-width="1"/>
<text x="850.5" y="709.3" font-size="11" fill="#5a5a5a" text-anchor="middle">18</text>
<line x1="893.5" x2="893.5" y1="692.8" y2="695" stroke="#707070" stroke-width="1"/>
<text x="893.5" y="709.3" font-size="11" fill="#5a5a5a" text-anchor="middle">20</text>
<line x1="943.5" x2="943.5" y1="692.8" y2="695" stroke="#707070" stroke-width="1"/>
<text x="943.5" y="709.3" font-size="11" fill="#5a5a5a" text-anchor="middle">22</text>
<line x1="987.5" x2="987.5" y1="692.8" y2="695" stroke="#707070" stroke-width="1"/>
<text x="987.5" y="709.3" font-size="11" fill="#5a5a5a" text-anchor="middle">23</text>
<line x1="1030.5" x2="1030.5" y1="692.8" y2="695" stroke="#707070" stroke-width="1"/>
<text x="1030.5" y="709.3" font-size="11" fill="#5a5a5a" text-anchor="middle">24</text>
<line x1="1073.5" x2="1073.5" y1="692.8" y2="695" stroke="#707070" stroke-width="1"/>
<text x="1073.5" y="709.3" font-size="11" fill="#5a5a5a" text-anchor="middle">25</text>
</svg></body></html>
